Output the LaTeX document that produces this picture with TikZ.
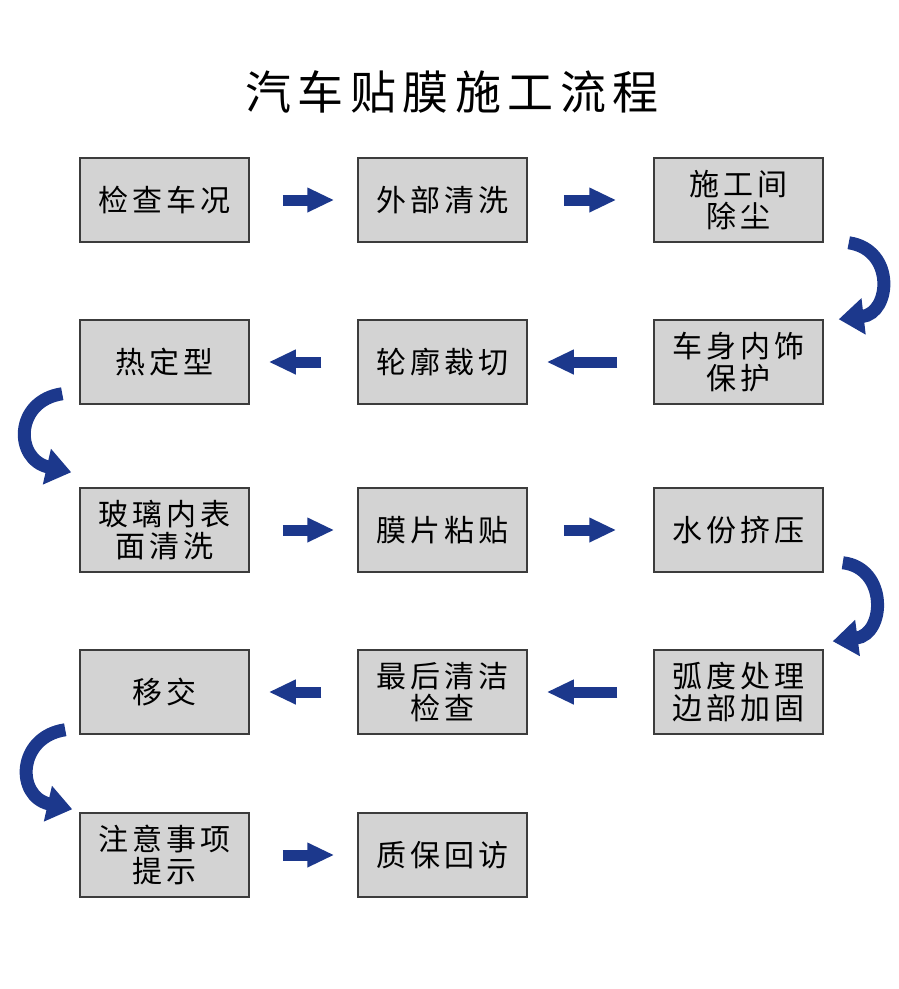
\documentclass[tikz,border=0pt]{standalone}
\usepackage{fontspec}
\newfontfamily\cjk[LetterSpace=14]{Noto Sans CJK SC}
\usetikzlibrary{arrows.meta}
\definecolor{arrowblue}{RGB}{28,56,140}
\definecolor{boxgray}{RGB}{211,211,211}
\definecolor{boxline}{RGB}{60,60,60}
\tikzset{
    stepbox/.style={draw=boxline, line width=1.5pt, fill=boxgray, minimum width=169pt,
        minimum height=84pt, inner sep=0pt, align=center, font=\cjk\fontsize{30}{32}\selectfont},
    flatarrow/.style={arrowblue, line width=11pt, -{Triangle[length=27pt,width=23pt]}},
    turnarrow/.style={arrowblue, line width=13pt, -{Triangle[length=25pt,width=35pt]}}
}
\begin{document}
\begin{tikzpicture}[x=1pt, y=-1pt]
                \fill[white] (0, 0) rectangle (899, 989);
                \useasboundingbox (0, 0) rectangle (899, 989);
                \node (title) at (452, 92) [font=\cjk\fontsize{46}{50}\selectfont] {汽车贴膜施工流程};
                % row 1
                \node (check) at (164.5, 200) [stepbox] {检查车况};
                \node (wash) at (442.5, 200) [stepbox] {外部清洗};
                \node (dust) at (738.5, 200) [stepbox] {施工间\\除尘};
                % row 2
                \node (heat) at (164.5, 362) [stepbox] {热定型};
                \node (cut) at (442.5, 362) [stepbox] {轮廓裁切};
                \node (inner) at (738.5, 362) [stepbox] {车身内饰\\保护};
                % row 3
                \node (glass) at (164.5, 530) [stepbox] {玻璃内表\\面清洗};
                \node (film) at (442.5, 530) [stepbox] {膜片粘贴};
                \node (water) at (738.5, 530) [stepbox] {水份挤压};
                % row 4
                \node (handover) at (164.5, 692) [stepbox] {移交};
                \node (final) at (442.5, 692) [stepbox] {最后清洁\\检查};
                \node (edge) at (738.5, 692) [stepbox] {弧度处理\\边部加固};
                % row 5
                \node (notice) at (164.5, 855) [stepbox] {注意事项\\提示};
                \node (revisit) at (442.5, 855) [stepbox] {质保回访};
                % straight arrows
                \draw[flatarrow] ([xshift=33pt]check.east) -- ([xshift=-23pt]wash.west);
                \draw[flatarrow] ([xshift=36pt]wash.east) -- ([xshift=-37pt]dust.west);
                \draw[flatarrow] ([xshift=-36pt]inner.west) -- ([xshift=19pt]cut.east);
                \draw[flatarrow] ([xshift=-36pt]cut.west) -- ([xshift=19pt]heat.east);
                \draw[flatarrow] ([xshift=33pt]glass.east) -- ([xshift=-23pt]film.west);
                \draw[flatarrow] ([xshift=36pt]film.east) -- ([xshift=-37pt]water.west);
                \draw[flatarrow] ([xshift=-36pt]edge.west) -- ([xshift=19pt]final.east);
                \draw[flatarrow] ([xshift=-36pt]final.west) -- ([xshift=19pt]handover.east);
                \draw[flatarrow] ([xshift=33pt]notice.east) -- ([xshift=-23pt]revisit.west);
                % turning arrows
                \draw[turnarrow] ([xshift=25pt]dust.south east) .. controls +(47, 7) and +(52, -6) .. ([xshift=15pt]inner.north east);
                \draw[turnarrow] ([xshift=-17pt, yshift=11pt]heat.south west) .. controls +(-48, 7) and +(-57, -13) .. ([xshift=-8pt, yshift=15pt]glass.north west);
                \draw[turnarrow] ([xshift=19pt, yshift=10pt]water.south east) .. controls +(45, 5) and +(53, -7) .. ([xshift=9pt, yshift=8pt]edge.north east);
                \draw[turnarrow] ([xshift=-14pt, yshift=5pt]handover.south west) .. controls +(-48, 7) and +(-57, -13) .. ([xshift=-7pt, yshift=3pt]notice.north west);
\end{tikzpicture}
\end{document}
